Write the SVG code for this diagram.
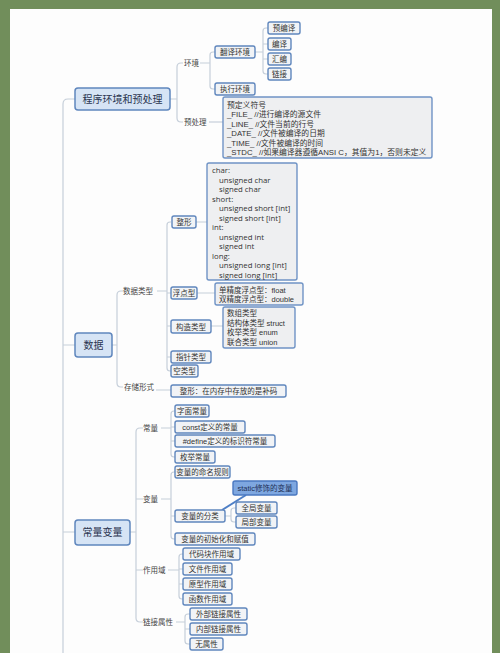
<svg xmlns="http://www.w3.org/2000/svg" width="500" height="653" viewBox="0 0 500 653">
<style>
text{font-family:"Liberation Sans","Noto Sans CJK SC",sans-serif;fill:#333;font-size:7.5px}
.c{text-anchor:middle}
.main{font-size:10px;fill:#2a3550}
.lab{fill:#444}
.wide text{font-family:"Open Sans","Noto Sans CJK SC",sans-serif;font-size:7.8px}
.pd text{font-size:7.8px}
.leaf{fill:#f1f3f6;stroke:#5f86bd;stroke-width:1.4}
.mn{fill:#d6e4f5;stroke:#5f86bd;stroke-width:1.5}
.det{fill:#eeeff1;stroke:#6f93c5;stroke-width:1.4}
.st{fill:#7ea7e0;stroke:#4a78c0;stroke-width:1.4}
#connectors path{fill:none;stroke:#c6cfda;stroke-width:1.2}
</style>
<rect x="0" y="0" width="500" height="653" fill="#718e5b"/>
<rect x="10" y="9" width="482" height="644" fill="#fdfdfd"/>
<g id="connectors">
<path d="M75 99 H68 Q63 99 63 104 V653 M63 345 H75 M63 532 H75"/>
<path d="M170 99 H177 M183 63 H181 Q177 63 177 67 V118 Q177 122 181 122 H183"/>
<path d="M200 63 H210 M215 52 H213 Q210 52 210 55 V86 Q210 89 213 89 H215"/>
<path d="M255 52 H263 M268 28 H266 Q263 28 263 31 V71 Q263 74 266 74 H268 M263 44 H268 M263 59 H268"/>
<path d="M209 122 H223"/>
<path d="M112 345 H117 M123 291 H121 Q117 291 117 295 V383 Q117 387 121 387 H123"/>
<path d="M157 291 H167 M171 222 H170 Q167 222 167 225 V368 Q167 371 170 371 H171 M167 293 H171 M167 326 H171 M167 357 H171"/>
<path d="M196 222 H207 M197 293 H215 M211 326 H223 M156 390 H171"/>
<path d="M130 532 H136 M143 428 H140 Q136 428 136 432 V618 Q136 622 140 622 H143 M136 499 H143 M136 570 H143"/>
<path d="M161 428 H171 M175 411 H174 Q171 411 171 414 V454 Q171 457 174 457 H175 M171 427 H175 M171 441 H175"/>
<path d="M161 499 H171 M175 472 H174 Q171 472 171 475 V536 Q171 539 174 539 H175 M171 516 H175"/>
<path d="M225 516 H231 M236 508 H234 Q231 508 231 511 V519 Q231 522 234 522 H236"/>
<path d="M168 570 H179 M183 554 H182 Q179 554 179 557 V596 Q179 599 182 599 H183 M179 569 H183 M179 584 H183"/>
<path d="M176 622 H185 M190 614 H188 Q185 614 185 617 V641 Q185 644 188 644 H190 M185 629 H190"/>
<path d="M222 510 L246 495" style="stroke:#4e7fc6;stroke-width:2"/>
</g>
<g id="n-prog"><rect class="mn" x="75" y="88" width="95" height="22" rx="3"/><text class="main c" x="122.5" y="103">程序环境和预处理</text></g>
<g id="l-env"><text class="lab" x="184" y="66">环境</text></g>
<g id="l-pre"><text class="lab" x="184" y="125">预处理</text></g>
<g id="n-trans"><rect class="leaf" x="215" y="46" width="40" height="12" rx="2"/><text class="c" x="235" y="55">翻译环境</text></g>
<g id="n-exec"><rect class="leaf" x="215" y="83" width="40" height="12" rx="2"/><text class="c" x="235" y="92">执行环境</text></g>
<g id="n-precomp"><rect class="leaf" x="268" y="22" width="32" height="12" rx="2"/><text class="c" x="284" y="31">预编译</text></g>
<g id="n-comp"><rect class="leaf" x="268" y="38" width="23" height="12" rx="2"/><text class="c" x="279.5" y="47">编译</text></g>
<g id="n-asm"><rect class="leaf" x="268" y="53" width="23" height="12" rx="2"/><text class="c" x="279.5" y="62">汇编</text></g>
<g id="n-link"><rect class="leaf" x="268" y="68" width="23" height="12" rx="2"/><text class="c" x="279.5" y="77">链接</text></g>
<g id="n-predef" class="pd"><rect class="det" x="223" y="97" width="209" height="61" rx="2"/>
<text x="227" y="108">预定义符号</text>
<text x="227" y="117.4">_FILE_ //进行编译的源文件</text>
<text x="227" y="126.8">_LINE_ //文件当前的行号</text>
<text x="227" y="136.2">_DATE_ //文件被编译的日期</text>
<text x="227" y="145.6">_TIME_ //文件被编译的时间</text>
<text x="227" y="155">_STDC_ //如果编译器遵循ANSI C，其值为1，否则未定义</text></g>
<g id="n-data"><rect class="mn" x="75" y="333" width="37" height="24" rx="3"/><text class="main c" x="93.5" y="349">数据</text></g>
<g id="l-dtype"><text class="lab" x="123" y="294">数据类型</text></g>
<g id="l-store"><text class="lab" x="124" y="390">存储形式</text></g>
<g id="n-int"><rect class="leaf" x="172" y="216" width="24" height="12" rx="2"/><text class="c" x="184" y="225">整形</text></g>
<g id="n-intdet" class="wide"><rect class="det" x="207" y="163" width="90" height="117" rx="2"/>
<text x="212" y="173">char:</text>
<text x="219" y="182.5">unsigned char</text>
<text x="219" y="192">signed char</text>
<text x="212" y="201.5">short:</text>
<text x="219" y="211">unsigned short [int]</text>
<text x="219" y="220.5">signed short [int]</text>
<text x="212" y="230">int:</text>
<text x="219" y="239.5">unsigned int</text>
<text x="219" y="249">signed int</text>
<text x="212" y="258.5">long:</text>
<text x="219" y="268">unsigned long [int]</text>
<text x="219" y="277.5">signed long [int]</text></g>
<g id="n-float"><rect class="leaf" x="171" y="287" width="26" height="12" rx="2"/><text class="c" x="184" y="296">浮点型</text></g>
<g id="n-floatdet"><rect class="det" x="215" y="283" width="88" height="22" rx="2"/>
<text x="219" y="292.5">单精度浮点型：float</text>
<text x="219" y="302">双精度浮点型：double</text></g>
<g id="n-struct"><rect class="leaf" x="171" y="320" width="40" height="13" rx="2"/><text class="c" x="191" y="329.5">构造类型</text></g>
<g id="n-structdet"><rect class="det" x="223" y="307" width="72" height="41" rx="2"/>
<text x="227" y="316">数组类型</text>
<text x="227" y="325.5">结构体类型 struct</text>
<text x="227" y="335">枚举类型 enum</text>
<text x="227" y="344.5">联合类型 union</text></g>
<g id="n-ptr"><rect class="leaf" x="171" y="351" width="40" height="12" rx="2"/><text class="c" x="191" y="360">指针类型</text></g>
<g id="n-void"><rect class="leaf" x="171" y="365" width="27" height="12" rx="2"/><text class="c" x="184.5" y="374">空类型</text></g>
<g id="n-comp2"><rect class="leaf" x="171" y="385" width="115" height="12" rx="2"/><text class="c" x="228.5" y="394">整形：在内存中存放的是补码</text></g>
<g id="n-cv"><rect class="mn" x="75" y="520" width="55" height="25" rx="3"/><text class="main c" x="102.5" y="536">常量变量</text></g>
<g id="l-const"><text class="lab" x="143" y="431">常量</text></g>
<g id="l-var"><text class="lab" x="143" y="502">变量</text></g>
<g id="l-scope"><text class="lab" x="143" y="573">作用域</text></g>
<g id="l-linkattr"><text class="lab" x="143" y="625">链接属性</text></g>
<g id="n-lit"><rect class="leaf" x="175" y="405" width="34" height="12" rx="2"/><text class="c" x="192" y="414">字面常量</text></g>
<g id="n-constdef"><rect class="leaf" x="175" y="421" width="70" height="12" rx="2"/><text class="c" x="210" y="430">const定义的常量</text></g>
<g id="n-define"><rect class="leaf" x="175" y="435" width="100" height="12" rx="2"/><text class="c" x="225" y="444">#define定义的标识符常量</text></g>
<g id="n-enum"><rect class="leaf" x="175" y="451" width="40" height="12" rx="2"/><text class="c" x="195" y="460">枚举常量</text></g>
<g id="n-naming"><rect class="leaf" x="175" y="466" width="55" height="12" rx="2"/><text class="c" x="202.5" y="475">变量的命名规则</text></g>
<g id="n-static"><rect class="st" x="233" y="481" width="64" height="14" rx="2"/><text class="c" x="265" y="491" style="fill:#1d2f55">static修饰的变量</text></g>
<g id="n-class"><rect class="leaf" x="175" y="510" width="50" height="12" rx="2"/><text class="c" x="200" y="519">变量的分类</text></g>
<g id="n-global"><rect class="leaf" x="236" y="502" width="41" height="12" rx="2"/><text class="c" x="256.5" y="511">全局变量</text></g>
<g id="n-local"><rect class="leaf" x="236" y="516" width="41" height="12" rx="2"/><text class="c" x="256.5" y="525">局部变量</text></g>
<g id="n-init"><rect class="leaf" x="175" y="533" width="80" height="12" rx="2"/><text class="c" x="215" y="542">变量的初始化和赋值</text></g>
<g id="n-block"><rect class="leaf" x="183" y="548" width="57" height="12" rx="2"/><text class="c" x="211.5" y="557">代码块作用域</text></g>
<g id="n-file"><rect class="leaf" x="183" y="563" width="49" height="12" rx="2"/><text class="c" x="207.5" y="572">文件作用域</text></g>
<g id="n-proto"><rect class="leaf" x="183" y="578" width="49" height="12" rx="2"/><text class="c" x="207.5" y="587">原型作用域</text></g>
<g id="n-func"><rect class="leaf" x="183" y="593" width="49" height="12" rx="2"/><text class="c" x="207.5" y="602">函数作用域</text></g>
<g id="n-ext"><rect class="leaf" x="190" y="608" width="57" height="12" rx="2"/><text class="c" x="218.5" y="617">外部链接属性</text></g>
<g id="n-int2"><rect class="leaf" x="190" y="623" width="57" height="12" rx="2"/><text class="c" x="218.5" y="632">内部链接属性</text></g>
<g id="n-none"><rect class="leaf" x="190" y="638" width="33" height="12" rx="2"/><text class="c" x="206.5" y="647">无属性</text></g>
</svg>
